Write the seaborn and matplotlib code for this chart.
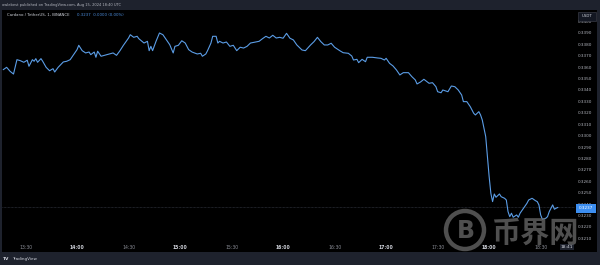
import numpy as np
import pandas as pd
import matplotlib
matplotlib.use("Agg")
import matplotlib.pyplot as plt
from matplotlib.patches import Rectangle, Circle
import seaborn as sns

# ---------------- data ----------------
times = ["13:17","13:19","13:21","13:23","13:25","13:27","13:29","13:31","13:32","13:34",
         "13:35","13:36","13:37","13:39","13:40","13:42","13:44","13:46","13:47","13:49",
         "13:52","13:54","13:56","13:58","14:00","14:01","14:03","14:05","14:07","14:08",
         "14:10","14:11","14:12","14:14","14:16","14:19","14:21","14:23","14:25","14:27",
         "14:30","14:31","14:33","14:35","14:36","14:39","14:41","14:42","14:43","14:44",
         "14:46","14:48","14:50","14:52","14:54","14:56","14:57","14:59","15:01","15:03",
         "15:05","15:07","15:10","15:12","15:13","15:15","15:16","15:18","15:19","15:21",
         "15:22","15:23","15:25","15:27","15:29","15:31","15:33","15:35","15:37","15:39",
         "15:41","15:44","15:46","15:48","15:50","15:52","15:54","15:56","15:58","16:00",
         "16:02","16:04","16:06","16:08","16:11","16:13","16:16","16:18","16:20","16:22",
         "16:24","16:26","16:28","16:30","16:33","16:35","16:38","16:40","16:41","16:43",
         "16:44","16:46","16:48","16:49","16:52","16:55","16:57","16:59","17:00","17:02",
         "17:04","17:06","17:08","17:10","17:13","17:15","17:17","17:18","17:20","17:22",
         "17:25","17:27","17:29","17:30","17:32","17:33","17:36","17:38","17:40","17:42",
         "17:44","17:45","17:47","17:49","17:51","17:52","17:54","17:55","17:56","17:58",
         "17:59","18:00","18:01","18:02","18:03","18:04","18:06","18:07","18:09","18:10",
         "18:11","18:12","18:13","18:14","18:16","18:17","18:18","18:20","18:22","18:23",
         "18:25","18:27","18:28","18:29","18:30","18:31","18:33","18:34","18:35","18:37",
         "18:38","18:39","18:40"]
prices = [0.33578,0.33599,0.33564,0.33540,0.33666,0.33657,0.33643,0.33661,0.33608,0.33666,
          0.33652,0.33675,0.33643,0.33675,0.33652,0.33599,0.33569,0.33587,0.33558,0.33599,
          0.33646,0.33652,0.33666,0.33710,0.33754,0.33792,0.33745,0.33725,0.33733,0.33710,
          0.33733,0.33687,0.33740,0.33696,0.33704,0.33716,0.33725,0.33704,0.33745,0.33792,
          0.33856,0.33885,0.33862,0.33871,0.33850,0.33812,0.33827,0.33745,0.33783,0.33745,
          0.33827,0.33900,0.33885,0.33841,0.33797,0.33725,0.33783,0.33792,0.33832,0.33812,
          0.33754,0.33733,0.33716,0.33722,0.33696,0.33716,0.33745,0.33812,0.33871,0.33871,
          0.33812,0.33827,0.33812,0.33821,0.33783,0.33792,0.33745,0.33775,0.33768,0.33783,
          0.33812,0.33821,0.33827,0.33850,0.33871,0.33856,0.33880,0.33856,0.33862,0.33854,
          0.33897,0.33854,0.33839,0.33795,0.33751,0.33745,0.33795,0.33824,0.33862,0.33824,
          0.33795,0.33795,0.33810,0.33775,0.33745,0.33727,0.33722,0.33698,0.33663,0.33669,
          0.33640,0.33669,0.33648,0.33687,0.33687,0.33681,0.33678,0.33663,0.33678,0.33634,
          0.33611,0.33576,0.33532,0.33552,0.33552,0.33517,0.33488,0.33453,0.33470,0.33494,
          0.33459,0.33464,0.33429,0.33385,0.33376,0.33400,0.33385,0.33435,0.33429,0.33400,
          0.33356,0.33298,0.33298,0.33254,0.33196,0.33181,0.33210,0.33181,0.33137,0.32991,
          0.32815,0.32640,0.32494,0.32421,0.32488,0.32459,0.32488,0.32464,0.32450,0.32435,
          0.32333,0.32289,0.32319,0.32284,0.32304,0.32284,0.32319,0.32363,0.32406,0.32435,
          0.32450,0.32429,0.32421,0.32392,0.32304,0.32266,0.32275,0.32289,0.32333,0.32392,
          0.32354,0.32363,0.32370]

time_ticks = ["13:30","14:00","14:30","15:00","15:30","16:00","16:30","17:00","17:30","18:00","18:30"]
price_ticks = [0.3210,0.3220,0.3230,0.3240,0.3250,0.3260,0.3270,0.3280,0.3290,0.3300,
               0.3310,0.3320,0.3330,0.3340,0.3350,0.3360,0.3370,0.3380,0.3390,0.3400]
last_price = 0.3237
title_text = "owlebest published on TradingView.com, Aug 15, 2024 18:40 UTC"
symbol_text = "Cardano / TetherUS, 1, BINANCE"
quote_text = "0.3237  0.0000 (0.00%)"
current_time_label = "18:41"
currency = "USDT"
watermark = "币界网"

day = "2024-08-15 "
df = pd.DataFrame({"time": pd.to_datetime([day + t for t in times]), "price": prices})

# ---------------- figure ----------------
W, H = 600, 265
sns.set_style("dark", {"axes.facecolor": "#000000"})
plt.rcParams["font.family"] = ["DejaVu Sans"]

fig = plt.figure(figsize=(6, 2.65), dpi=100, facecolor="#1e222d")

# background panel (pixel coordinates)
bg = fig.add_axes([0, 0, 1, 1], zorder=0)
bg.set_xlim(0, W); bg.set_ylim(H, 0); bg.axis("off")
bg.add_patch(Rectangle((2, 9.5), 595, 242.5, facecolor="#000000", edgecolor="none"))

# main axes
x0, x1, y0, y1 = 2, 575, 9.5, 242
ax = fig.add_axes([x0 / W, 1 - y1 / H, (x1 - x0) / W, (y1 - y0) / H], zorder=1)
ax.set_facecolor("#000000")
sns.lineplot(data=df, x="time", y="price", ax=ax, color="#5b9de6", linewidth=0.8)
ax.axhline(last_price, color="#3a3f4b", linewidth=0.5, linestyle=(0, (1, 1)), zorder=0)

ax.set_xlim(pd.Timestamp(day + "13:16:18"), pd.Timestamp(day + "18:50:00"))
ax.set_ylim(0.320667, 0.341061)
ax.grid(False)
for s in ax.spines.values():
    s.set_visible(False)
ax.set_xlabel(""); ax.set_ylabel("")

tick_dt = pd.to_datetime([day + t for t in time_ticks])
ax.set_xticks(tick_dt)
ax.set_xticklabels(time_ticks)
for lab, t in zip(ax.get_xticklabels(), time_ticks):
    if t.endswith(":00"):
        lab.set_color("#d1d4dc"); lab.set_fontweight("bold")
    else:
        lab.set_color("#8a8d96")
    lab.set_fontsize(3.3)
ax.tick_params(axis="x", length=0, pad=2.0)

ax.yaxis.tick_right()
ax.set_yticks(price_ticks)
ax.set_yticklabels([f"{p:.4f}" for p in price_ticks])
ax.tick_params(axis="y", length=0, pad=2.3, labelsize=3.0, labelcolor="#b2b5be")

# overlay (pixel coordinates)
ov = fig.add_axes([0, 0, 1, 1], zorder=3)
ov.set_xlim(0, W); ov.set_ylim(H, 0); ov.axis("off")
ov.patch.set_alpha(0)

ov.text(2, 4.8, title_text, color="#b2b5be", fontsize=2.6, va="center", ha="left")
ov.text(7, 15.5, symbol_text, color="#d1d4dc", fontsize=2.8, va="center", ha="left")
ov.text(77, 15.5, quote_text, color="#4d8fe0", fontsize=2.8, va="center", ha="left")

# currency box
ov.add_patch(Rectangle((577.5, 11.5), 18, 9, facecolor="#131722", edgecolor="#434651", linewidth=0.4))
ov.text(586.5, 16, currency, color="#d1d4dc", fontsize=2.8, va="center", ha="center")

# current price label
ov.add_patch(Rectangle((575.5, 204), 20.5, 8.5, facecolor="#3d8ef0", edgecolor="none"))
ov.text(585.7, 208.3, "0.3237", color="#ffffff", fontsize=3.0, va="center", ha="center")

# current time label
ov.text(567, 247.3, current_time_label, color="#d1d4dc", fontsize=3.2, va="center", ha="center",
        bbox=dict(boxstyle="square,pad=0.25", facecolor="#1e222d", edgecolor="none"))

# watermark
ov.add_patch(Circle((465, 230), 19, facecolor="none", edgecolor="#6a6a6a", linewidth=3.2, alpha=0.75))
ov.text(466, 231, "B", color="#6a6a6a", fontsize=17, fontweight="bold", va="center", ha="center", alpha=0.75)
ov.text(535, 233, watermark, color="#6a6a6a", fontsize=21, fontweight="bold", va="center", ha="center",
        alpha=0.75, family=["Noto Sans CJK SC", "DejaVu Sans"])

# bottom bar
ov.text(3, 259.2, "TV", color="#d1d4dc", fontsize=3.2, fontweight="bold", va="center", ha="left")
ov.text(12, 259.2, "TradingView", color="#d1d4dc", fontsize=3.0, va="center", ha="left")

fig.savefig("out.png", dpi=100, facecolor=fig.get_facecolor())
